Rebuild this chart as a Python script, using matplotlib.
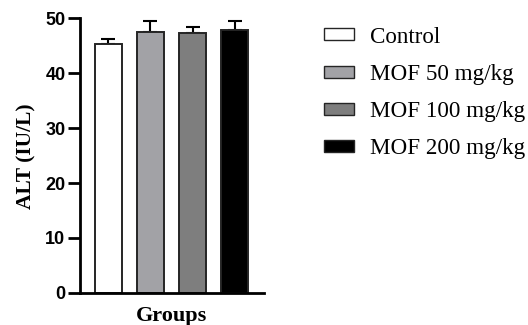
import numpy as np
import matplotlib
matplotlib.use('Agg')
import matplotlib.pyplot as plt
from matplotlib.patches import Patch

groups = ['Control', 'MOF 50 mg/kg', 'MOF 100 mg/kg', 'MOF 200 mg/kg']
alt_mean = [45.2, 47.5, 47.2, 47.8]
alt_err = [0.9, 2.0, 1.1, 1.7]
colors = ['#ffffff', '#a2a2a6', '#7e7e7e', '#000000']

fig = plt.figure(figsize=(5.28, 3.25), dpi=100)
ax = fig.add_axes([0.1515, 0.0985, 0.3485, 0.846])

x = np.arange(len(groups))
ax.bar(x, alt_mean, width=0.64, color=colors, edgecolor='#252525', linewidth=1.4, zorder=2)
ax.errorbar(x, alt_mean, yerr=[np.zeros(len(groups)), alt_err], fmt='none',
            ecolor='black', elinewidth=1.5, capsize=5, capthick=1.5, zorder=1)

ax.set_xlim(-0.67, 3.69)
ax.set_ylim(0, 50)
ax.set_yticks([0, 10, 20, 30, 40, 50])
ax.set_xticks([])
for s in ['top', 'right']:
    ax.spines[s].set_visible(False)
for s in ['left', 'bottom']:
    ax.spines[s].set_linewidth(2)
ax.tick_params(axis='y', width=2, length=8.5, labelsize=13, pad=2)
for lbl in ax.get_yticklabels():
    lbl.set_fontfamily('Liberation Sans')
    lbl.set_fontweight('bold')

fig.text(0.05, 0.52, 'ALT (IU/L)', rotation=90, ha='center', va='center',
         fontsize=15.5, fontweight='bold', family='Liberation Serif')
fig.text(0.325, 0.028, 'Groups', ha='center', va='center',
         fontsize=16, fontweight='bold', family='Liberation Serif')

handles = [Patch(facecolor=c, edgecolor='#252525', linewidth=1.0) for c in colors]
fig.legend(handles, groups, loc='upper left', bbox_to_anchor=(0.613, 0.918), frameon=False,
           prop={'family': 'Liberation Serif', 'size': 16.6}, handlelength=1.3, handleheight=0.42,
           handletextpad=0.7, labelspacing=0.7, borderaxespad=0, borderpad=0)

fig.savefig('out.png', dpi=100, facecolor='white')
